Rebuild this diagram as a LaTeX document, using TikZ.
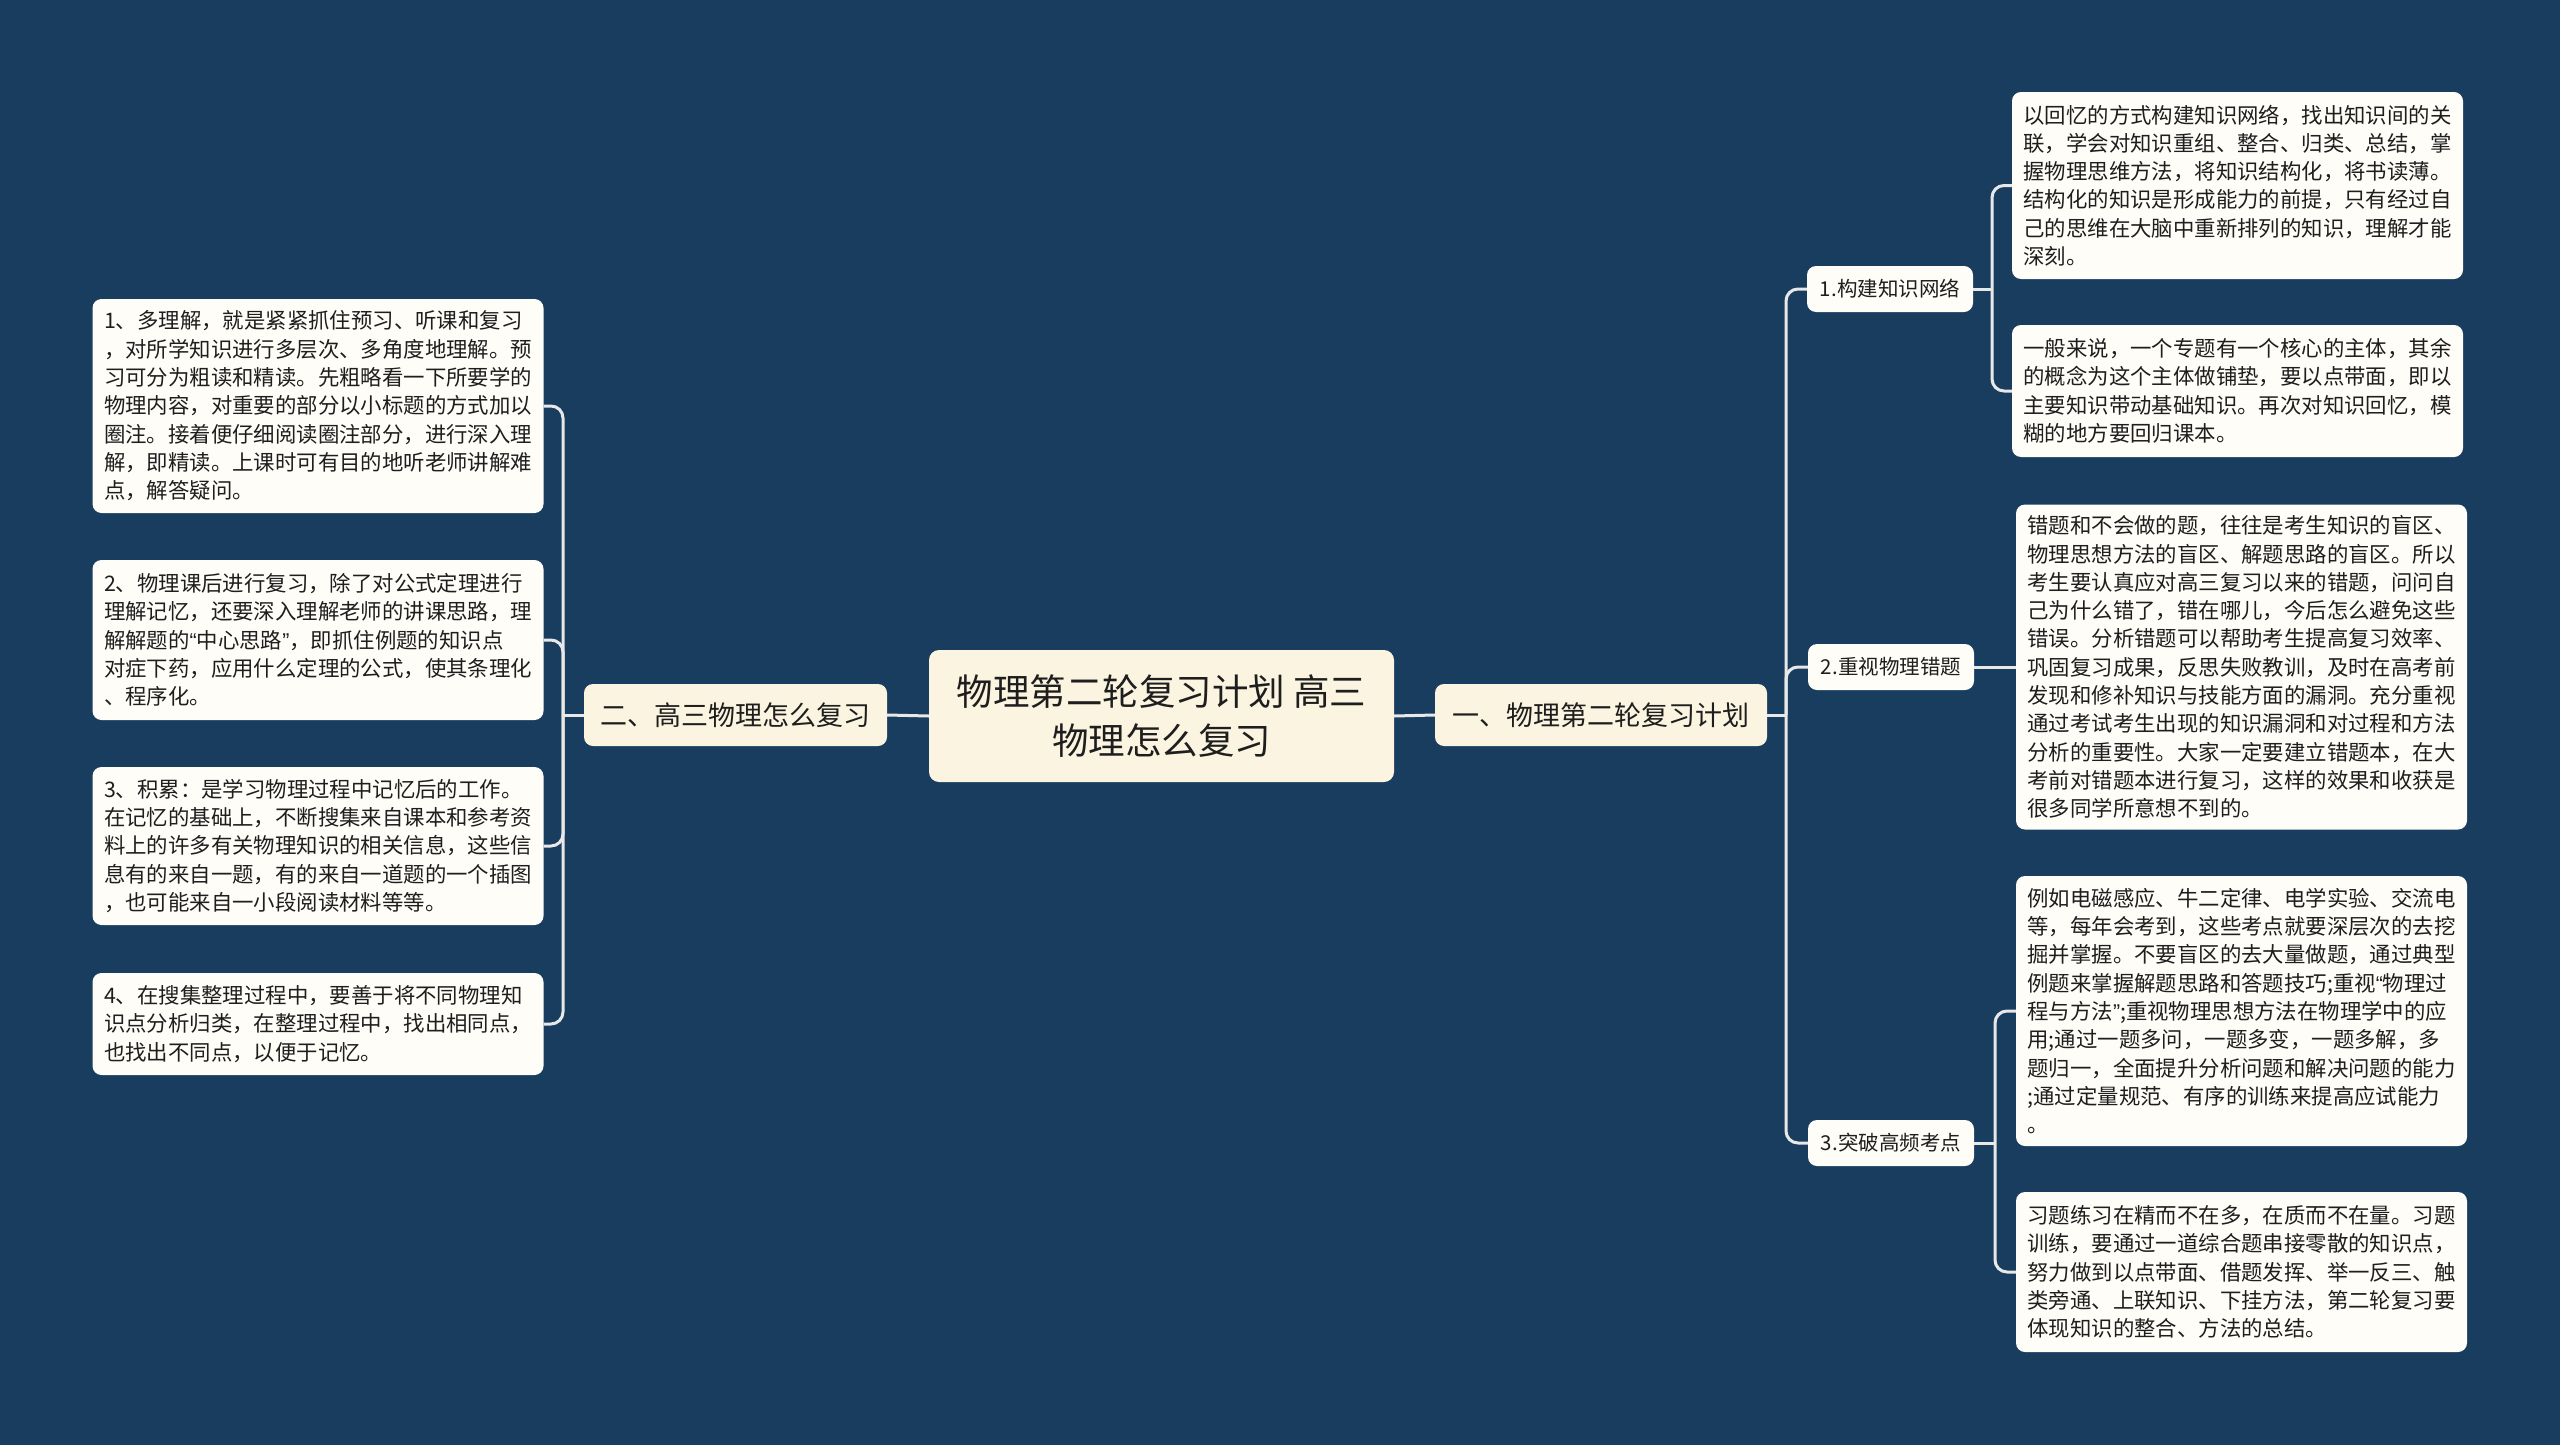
\documentclass[tikz,border=0pt]{standalone}
\usepackage{fontspec}
\setmainfont{Noto Sans CJK SC}
\newfontfamily\qfont{Liberation Sans}
\newcommand{\myLq}{{\qfont “}}
\newcommand{\myRq}{{\qfont ”}}
\definecolor{bgc}{RGB}{24,61,94}
\definecolor{cream}{RGB}{250,244,224}
\definecolor{leaff}{RGB}{254,253,248}
\definecolor{linec}{RGB}{232,232,232}
\definecolor{txt}{RGB}{30,30,30}
\tikzset{
  conn/.style={draw=linec, line width=3pt},
  rconn/.style={conn, rounded corners=12pt},
  leafbox/.style={fill=leaff, rounded corners=9pt, align=left, text width=428pt, inner xsep=11.5pt, inner ysep=0pt, text=txt, font=\fontsize{21.4}{28.3}\selectfont},
  subbox/.style={fill=leaff, rounded corners=9pt, minimum width=166pt, minimum height=46pt, inner sep=0pt, text=txt, font=\fontsize{20.5}{24}\selectfont},
  branchbox/.style={fill=cream, rounded corners=9pt, minimum height=62pt, inner sep=0pt, text=txt, font=\fontsize{27}{32}\selectfont},
  centerbox/.style={fill=cream, rounded corners=10pt, minimum width=465pt, minimum height=132pt, inner sep=0pt, align=center, text=txt, font=\fontsize{36.5}{49}\selectfont}
}
\begin{document}
\begin{tikzpicture}[x=1pt,y=-1pt]
\fill[bgc] (0,0) rectangle (2560,1445);
\useasboundingbox (0,0) rectangle (2560,1445);

% center and branches
\node[centerbox] (C) at (1161.5,716) {物理第二轮复习计划 高三\\物理怎么复习};
\node[branchbox, minimum width=303pt] (B2) at (735.5,715) {二、高三物理怎么复习};
\node[branchbox, minimum width=332pt] (B1) at (1601,715) {一、物理第二轮复习计划};

% left leaves
\node[leafbox, minimum height=214pt] (L1) at (318,406) {1、多理解，就是紧紧抓住预习、听课和复习\\，对所学知识进行多层次、多角度地理解。预\\习可分为粗读和精读。先粗略看一下所要学的\\物理内容，对重要的部分以小标题的方式加以\\圈注。接着便仔细阅读圈注部分，进行深入理\\解，即精读。上课时可有目的地听老师讲解难\\点，解答疑问。};
\node[leafbox, minimum height=160pt] (L2) at (318,640) {2、物理课后进行复习，除了对公式定理进行\\理解记忆，还要深入理解老师的讲课思路，理\\解解题的\myLq 中心思路\myRq ，即抓住例题的知识点\\对症下药，应用什么定理的公式，使其条理化\\、程序化。};
\node[leafbox, minimum height=158pt] (L3) at (318,846) {3、积累：是学习物理过程中记忆后的工作。\\在记忆的基础上，不断搜集来自课本和参考资\\料上的许多有关物理知识的相关信息，这些信\\息有的来自一题，有的来自一道题的一个插图\\，也可能来自一小段阅读材料等等。};
\node[leafbox, minimum height=102pt] (L4) at (318,1024) {4、在搜集整理过程中，要善于将不同物理知\\识点分析归类，在整理过程中，找出相同点，\\也找出不同点，以便于记忆。};

% right sub-branches
\node[subbox] (S1) at (1890,289) {1.构建知识网络};
\node[subbox] (S2) at (1891,667) {2.重视物理错题};
\node[subbox] (S3) at (1891,1143) {3.突破高频考点};

% right leaves
\node[leafbox, minimum height=187pt] (R1a) at (2237.5,185.5) {以回忆的方式构建知识网络，找出知识间的关\\联，学会对知识重组、整合、归类、总结，掌\\握物理思维方法，将知识结构化，将书读薄。\\结构化的知识是形成能力的前提，只有经过自\\己的思维在大脑中重新排列的知识，理解才能\\深刻。};
\node[leafbox, minimum height=132pt] (R1b) at (2237.5,391) {一般来说，一个专题有一个核心的主体，其余\\的概念为这个主体做铺垫，要以点带面，即以\\主要知识带动基础知识。再次对知识回忆，模\\糊的地方要回归课本。};
\node[leafbox, minimum height=325pt] (R2) at (2241.5,667) {错题和不会做的题，往往是考生知识的盲区、\\物理思想方法的盲区、解题思路的盲区。所以\\考生要认真应对高三复习以来的错题，问问自\\己为什么错了，错在哪儿，今后怎么避免这些\\错误。分析错题可以帮助考生提高复习效率、\\巩固复习成果，反思失败教训，及时在高考前\\发现和修补知识与技能方面的漏洞。充分重视\\通过考试考生出现的知识漏洞和对过程和方法\\分析的重要性。大家一定要建立错题本，在大\\考前对错题本进行复习，这样的效果和收获是\\很多同学所意想不到的。};
\node[leafbox, minimum height=270pt] (R3a) at (2241.5,1011) {例如电磁感应、牛二定律、电学实验、交流电\\等，每年会考到，这些考点就要深层次的去挖\\掘并掌握。不要盲区的去大量做题，通过典型\\例题来掌握解题思路和答题技巧;重视\myLq 物理过\\程与方法\myRq ;重视物理思想方法在物理学中的应\\用;通过一题多问，一题多变，一题多解，多\\题归一，全面提升分析问题和解决问题的能力\\;通过定量规范、有序的训练来提高应试能力\\。};
\node[leafbox, minimum height=160pt] (R3b) at (2241.5,1272) {习题练习在精而不在多，在质而不在量。习题\\训练，要通过一道综合题串接零散的知识点，\\努力做到以点带面、借题发挥、举一反三、触\\类旁通、上联知识、下挂方法，第二轮复习要\\体现知识的整合、方法的总结。};

% junction coordinates
\coordinate (jL) at (563,715);
\coordinate (jR) at (1786,715);
\coordinate (j1) at (1992,289);
\coordinate (j3) at (1995,1143);

% connectors
\draw[conn] (C.west) -- (B2.east);
\draw[conn] (C.east) -- (B1.west);
\draw[conn] (B2.west) -- (jL);
\draw[rconn] (jL) |- (L1.east);
\draw[rconn] (jL) |- (L2.east);
\draw[rconn] (jL) |- (L3.east);
\draw[rconn] (jL) |- (L4.east);
\draw[conn] (B1.east) -- (jR);
\draw[rconn] (jR) |- (S1.west);
\draw[rconn] (jR) |- (S2.west);
\draw[rconn] (jR) |- (S3.west);
\draw[conn] (S1.east) -- (j1);
\draw[rconn] (j1) |- (R1a.west);
\draw[rconn] (j1) |- (R1b.west);
\draw[conn] (S2.east) -- (R2.west);
\draw[conn] (S3.east) -- (j3);
\draw[rconn] (j3) |- (R3a.west);
\draw[rconn] (j3) |- (R3b.west);
\end{tikzpicture}
\end{document}
